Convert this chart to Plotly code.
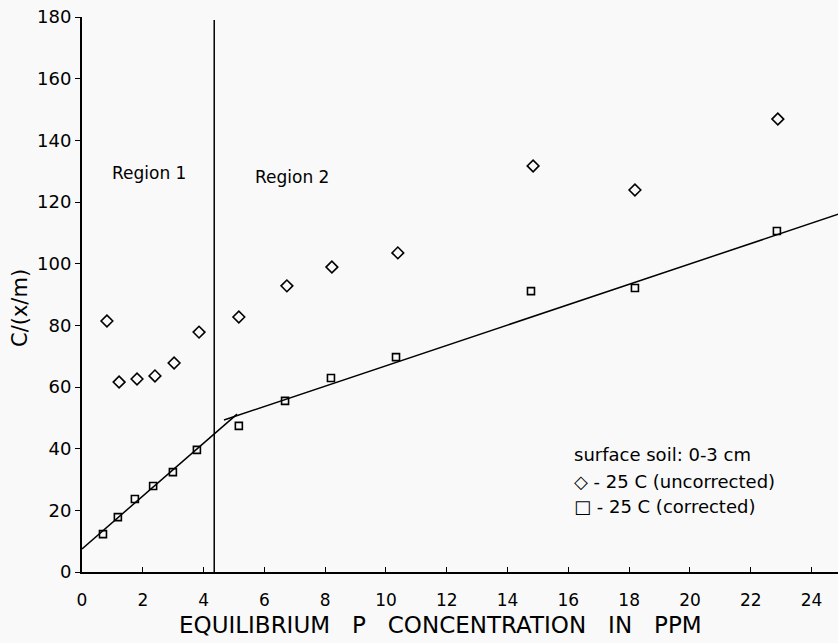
import plotly.graph_objects as go

# Data
x_uncorr = [0.82, 1.22, 1.81, 2.40, 3.03, 3.85, 5.16, 6.74, 8.22, 10.39, 14.84, 18.19, 22.89]
y_uncorr = [81.4, 61.6, 62.6, 63.6, 67.8, 77.8, 82.7, 92.8, 98.9, 103.5, 131.7, 123.9, 146.9]

x_corr = [0.69, 1.18, 1.74, 2.34, 2.99, 3.78, 5.16, 6.68, 8.19, 10.33, 14.77, 18.19, 22.86]
y_corr = [12.3, 17.8, 23.7, 27.9, 32.4, 39.6, 47.4, 55.5, 62.9, 69.7, 91.1, 92.1, 110.6]

# Fitted lines (endpoints)
fit1_x = [0, 5.1]
fit1_y = [7.5, 51.2]
fit2_x = [4.67, 24.9]
fit2_y = [49.3, 116.1]

region_boundary = 4.35

x_ticks = [0, 2, 4, 6, 8, 10, 12, 14, 16, 18, 20, 22, 24]
y_ticks = [0, 20, 40, 60, 80, 100, 120, 140, 160, 180]

legend_lines = ["surface soil: 0-3 cm", "◇ - 25 C (uncorrected)", "□ - 25 C (corrected)"]

FONT = "DejaVu Sans"
BG = "#f9f9f9"

W, H = 838, 643
# plot area (pixels): left 82, right 838, top 17, bottom 572
PL, PR, PT, PB = 82, 838, 17, 572
PW, PH = PR - PL, PB - PT


def px(xpix):
    return (xpix - PL) / PW


def py(ypix):
    return (PB - ypix) / PH


fig = go.Figure()

fig.add_trace(go.Scatter(
    x=fit1_x, y=fit1_y, mode="lines",
    line=dict(color="black", width=1.5), showlegend=False, hoverinfo="skip"))
fig.add_trace(go.Scatter(
    x=fit2_x, y=fit2_y, mode="lines",
    line=dict(color="black", width=1.5), showlegend=False, hoverinfo="skip"))

fig.add_trace(go.Scatter(
    x=x_uncorr, y=y_uncorr, mode="markers", name="- 25 C (uncorrected)", showlegend=False,
    marker=dict(symbol="diamond-open", size=9, color="black", line=dict(width=1.6))))
fig.add_trace(go.Scatter(
    x=x_corr, y=y_corr, mode="markers", name="- 25 C (corrected)", showlegend=False,
    marker=dict(symbol="square-open", size=7, color="black", line=dict(width=1.6))))

fig.add_shape(type="line", xref="x", yref="y",
              x0=region_boundary, x1=region_boundary, y0=0, y1=179,
              line=dict(color="black", width=1.5))

fig.add_annotation(x=2.2, y=129.4, xref="x", yref="y", text="Region 1",
                   showarrow=False, font=dict(family=FONT, size=17, color="black"))
fig.add_annotation(x=6.9, y=128.1, xref="x", yref="y", text="Region 2",
                   showarrow=False, font=dict(family=FONT, size=17, color="black"))

for i, (line, ypix) in enumerate(zip(legend_lines, [455, 481, 506])):
    fig.add_annotation(x=px(572), y=py(ypix), xref="paper", yref="paper",
                       xanchor="left", yanchor="middle", text=line, showarrow=False,
                       font=dict(family=FONT, size=18, color="black"))

fig.add_annotation(x=px(440), y=py(625), xref="paper", yref="paper",
                   xanchor="center", yanchor="middle",
                   text="EQUILIBRIUM   P   CONCENTRATION   IN   PPM", showarrow=False,
                   font=dict(family=FONT, size=23, color="black"))

fig.add_annotation(x=px(20), y=py(308), xref="paper", yref="paper",
                   xanchor="center", yanchor="middle", textangle=-90,
                   text="C/(x/m)", showarrow=False,
                   font=dict(family=FONT, size=21, color="black"))

fig.update_layout(
    width=W, height=H,
    margin=dict(l=PL, r=W - PR, t=PT, b=H - PB),
    paper_bgcolor=BG, plot_bgcolor=BG,
    font=dict(family=FONT, color="black"),
    showlegend=False,
    xaxis=dict(
        range=[0, 24.87], tickvals=x_ticks, ticktext=[str(v) for v in x_ticks],
        showgrid=False, zeroline=False, showline=True, linecolor="black", linewidth=2,
        ticks="inside", ticklen=5, tickcolor="black", automargin=False,
        ticklabelstandoff=12,
        tickfont=dict(family=FONT, size=17),
    ),
    yaxis=dict(
        range=[0, 180], tickvals=y_ticks, ticktext=[str(v) for v in y_ticks],
        showgrid=False, zeroline=False, showline=True, linecolor="black", linewidth=2,
        ticks="outside", ticklen=5, tickcolor="black", automargin=False,
        tickfont=dict(family=FONT, size=18),
    ),
)

fig.write_html("out.html", config={"displayModeBar": False},
               post_script="document.body.style.margin='0';document.body.style.overflow='hidden';")
